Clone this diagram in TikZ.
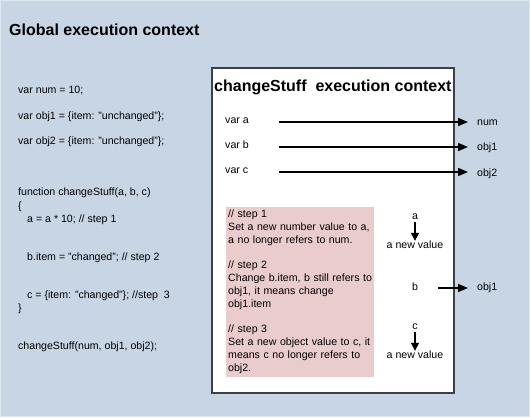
\documentclass[tikz,border=0pt]{standalone}
\usepackage{fontspec}
\setmainfont{Liberation Sans}
\usetikzlibrary{arrows.meta}

\definecolor{pageblue}{RGB}{200,213,229}
\definecolor{edgeblue}{RGB}{222,230,240}
\definecolor{stepink}{RGB}{235,204,204}
\definecolor{boxline}{RGB}{58,64,72}

\tikzset{
  code/.style={anchor=west, inner sep=0pt, text height=0.75em, text depth=0.25em,
    font=\fontsize{10.6bp}{13bp}\selectfont},
  heading/.style={anchor=west, inner sep=0pt, font=\fontsize{16bp}{19bp}\selectfont\bfseries},
  target/.style={code, inner xsep=9bp},
  ptr/.style={line width=1.6bp, -{Triangle[length=10bp,width=8bp]}},
}

\begin{document}
\begin{tikzpicture}[x=1bp,y=-1bp]
\useasboundingbox (0,0) rectangle (530,417);
\fill[pageblue] (0,0) rectangle (530,417);
\draw[edgeblue, line width=1bp] (0.5,0.5) rectangle (529.5,416.5);

%Global context
\node[heading] (global) at (9,30) {Global execution context};

\node[code] (l1) at (18,91) {var num = 10;};
\node[code] (l2) at (18,117) {var obj1 = \{item: "unchanged"\};};
\node[code] (l3) at (18,142) {var obj2 = \{item: "unchanged"\};};

\node[code] (l4) at (18,193) {function changeStuff(a, b, c)};
\node[code] (l5) at (18,207) {\{};
\node[code] (l6) at (27,220) {a = a * 10; // step 1};
\node[code] (l7) at (27,258) {b.item = "changed"; // step 2};
\node[code] (l8) at (27,296) {c = \{item: "changed"\}; //step\ \ 3};
\node[code] (l9) at (18,309) {\}};
\node[code] (l10) at (18,347) {changeStuff(num, obj1, obj2);};

%Function context
\draw[boxline, line width=1.4bp, fill=white] (212,68) rectangle (454,393);
\node[heading] (local) at (214,87) {changeStuff\ \ execution context};

\node[code] (va) at (225,121) {var a};
\node[code] (vb) at (225,146) {var b};
\node[code] (vc) at (225,171) {var c};
\coordinate (sa) at (279,122);
\coordinate (sb) at (279,147);
\coordinate (sc) at (279,172);
\node[target] (num) at (468,123) {num};
\node[target] (obja) at (468,148) {obj1};
\node[target] (objb) at (468,174) {obj2};
\draw[ptr] (sa) -- (sa -| num.west);
\draw[ptr] (sb) -- (sb -| obja.west);
\draw[ptr] (sc) -- (sc -| objb.west);

%Steps
\node[anchor=north west, fill=stepink, inner xsep=2bp, inner ysep=3bp, text width=144bp,
  minimum height=169bp, align=left, font=\fontsize{10.6bp}{13bp}\selectfont] (steps) at (226,207)
  {// step 1\\ Set a new number value to a,\\ a no longer refers to num.\\[12bp]
   // step 2\\ Change b.item, b still refers to\\ obj1, it means change\\ obj1.item\\[12bp]
   // step 3\\ Set a new object value to c, it\\ means c no longer refers to\\ obj2.};

\node[code, anchor=center] (na) at (415,217) {a};
\node[code, anchor=center] (newa) at (415,246) {a new value};
\draw[ptr, line width=1.4bp, -{Triangle[length=8bp,width=8bp]}] (na) -- (newa);

\node[code, anchor=center] (nb) at (415,288) {b};
\coordinate (sbb) at (438,288);
\node[target] (objc) at (468,288) {obj1};
\draw[ptr] (sbb) -- (objc.west);

\node[code, anchor=center] (nc) at (415,327) {c};
\node[code, anchor=center] (newc) at (415,356) {a new value};
\draw[ptr, line width=1.4bp, -{Triangle[length=8bp,width=8bp]}] (nc) -- (newc);
\end{tikzpicture}
\end{document}
